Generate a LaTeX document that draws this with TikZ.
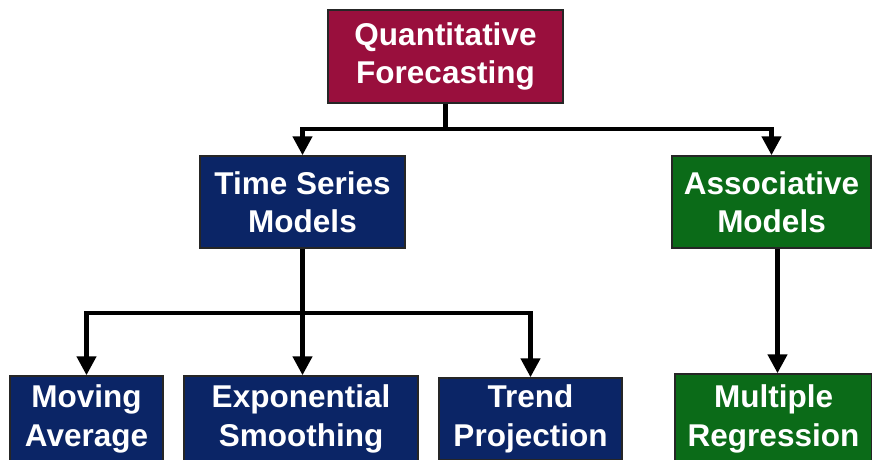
\documentclass[tikz,border=0pt]{standalone}
\usepackage{fontspec}
\setmainfont{Liberation Sans}
\usetikzlibrary{arrows.meta,calc}
\definecolor{qred}{HTML}{990F3D}
\definecolor{qnavy}{HTML}{0B2566}
\definecolor{qgreen}{HTML}{0B6B18}
\tikzset{
  box/.style={draw=black!85, line width=1.5pt, text=white, align=center,
    font=\fontsize{31.5}{38.5}\selectfont\bfseries, inner sep=0pt},
  conn/.style={line width=4.5pt, -{Triangle[width=19pt,length=19pt]}},
  plain/.style={line width=4.5pt}
}
\begin{document}
\begin{tikzpicture}[x=1pt,y=-1pt]
\useasboundingbox (0,0) rectangle (872,459);
\clip (0,0) rectangle (872,459);
\node[box, fill=qred, minimum width=235pt, minimum height=93pt] (Q) at (445.5,56.5) {Quantitative\\Forecasting};
\node[box, fill=qnavy, minimum width=205pt, minimum height=92pt] (TS) at (302.5,202) {Time Series\\Models};
\node[box, fill=qgreen, minimum width=199pt, minimum height=92pt] (AM) at (771.5,202) {Associative\\Models};
\node[box, fill=qnavy, minimum width=153pt, minimum height=86pt] (MA) at (86.5,419) {Moving\\Average};
\node[box, fill=qnavy, minimum width=234pt, minimum height=86pt] (ES) at (301,419) {Exponential\\Smoothing};
\node[box, fill=qnavy, minimum width=183pt, minimum height=82pt] (TP) at (530.5,419) {Trend\\Projection};
\node[box, fill=qgreen, minimum width=197pt, minimum height=90pt] (MR) at (773.5,419) {Multiple\\Regression};
% connectors
\draw[plain] (Q.south) -- ++(0,25) coordinate (j1);
\draw[conn] (j1) -| (TS.north);
\draw[conn] (j1) -| (AM.north);
\draw[conn] (TS.south) -- (TS.south |- ES.north);
\coordinate (j2) at ($(TS.south)+(0,64)$);
\draw[conn] (j2) -| (MA.north);
\draw[conn] (j2) -| (TP.north);
\draw[conn] ([xshift=6pt]AM.south) -- ([xshift=6pt]AM.south |- MR.north);
\end{tikzpicture}
\end{document}
